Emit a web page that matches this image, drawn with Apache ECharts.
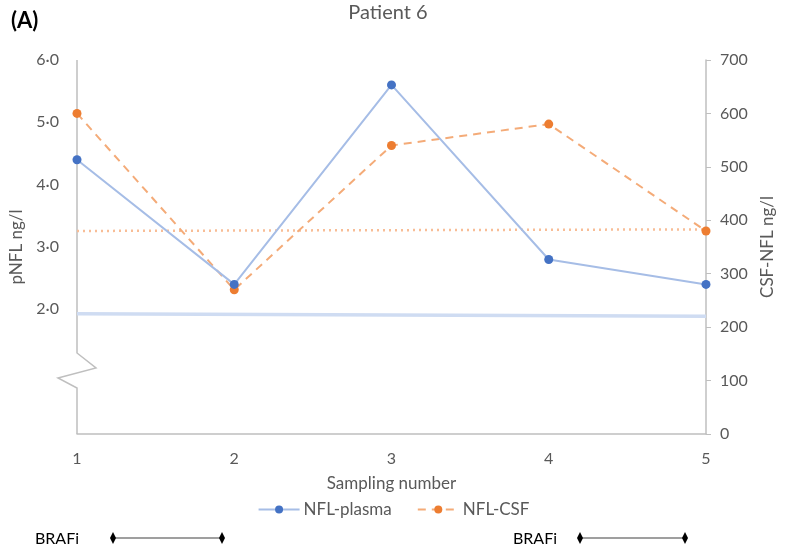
<!DOCTYPE html>
<html><head><meta charset="utf-8">
<script src="https://cdn.jsdelivr.net/npm/echarts@6/dist/echarts.min.js"></script>
<style>html,body{margin:0;padding:0;background:#fff}#c{width:787px;height:552px}</style>
</head><body><div id="c"></div>
<script>
const categories = ['1','2','3','4','5'];
const plasma = [4.4, 2.4, 5.6, 2.8, 2.4];
const csf = [600, 270, 540, 580, 380];
const plasmaRef = [1.93, null, null, null, 1.89];
const csfRef = [380, null, null, null, 383];
const leftTicks = [0,1,2,3,4,5,6];
const rightMax = 700;

const FONT = 'Lato';
const TXT = '#595959';
const chart = echarts.init(document.getElementById('c'), null, {renderer:'canvas'});
const gridL = 77, gridR = 81, gridT = 60, gridB = 118;

function diamondLine(x1, x2, y){
  return [
    {type:'line', shape:{x1:x1, y1:y, x2:x2, y2:y}, style:{stroke:'#7f7f7f', lineWidth:1.3}},
    {type:'polygon', shape:{points:[[x1-3,y],[x1,y-6],[x1+3,y],[x1,y+6]]}, style:{fill:'#000'}},
    {type:'polygon', shape:{points:[[x2-3,y],[x2,y-6],[x2+3,y],[x2,y+6]]}, style:{fill:'#000'}}
  ];
}

const option = {
  animation:false,
  textStyle:{fontFamily:FONT},
  title:{text:'Patient 6', left:383, textAlign:'center', top:-2,
    textStyle:{fontFamily:FONT, fontSize:20, fontWeight:'normal', color:TXT}},
  grid:{left:gridL, right:gridR, top:gridT, bottom:gridB},
  legend:{bottom:29, left:'center', itemGap:25, itemWidth:41, itemHeight:10,
    textStyle:{fontFamily:FONT, fontSize:17, color:TXT, padding:[0,0,0,-1]},
    data:['NFL-plasma','NFL-CSF']},
  xAxis:{type:'category', data:categories, boundaryGap:false,
    axisLine:{show:true, lineStyle:{color:'#bfbfbf', width:1.5}},
    axisTick:{show:false},
    axisLabel:{fontFamily:FONT, fontSize:16, color:TXT, margin:17},
    name:'Sampling number', nameLocation:'middle', nameGap:41,
    nameTextStyle:{fontFamily:FONT, fontSize:17, color:TXT}},
  yAxis:[
    {type:'value', min:leftTicks[0], max:leftTicks[leftTicks.length-1], interval:1,
     position:'left', splitLine:{show:false}, axisLine:{show:false}, axisTick:{show:false},
     axisLabel:{fontFamily:FONT, fontSize:16, color:TXT, margin:18,
       formatter:v => v >= 2 ? v.toFixed(1).replace('.', '\u00b7') : ''},
     name:'pNFL ng/l', nameLocation:'middle', nameGap:43, nameRotate:90,
     nameTextStyle:{fontFamily:FONT, fontSize:17, color:TXT}},
    {type:'value', min:0, max:rightMax, interval:100, position:'right',
     splitLine:{show:false},
     axisLine:{show:true, lineStyle:{color:'#bfbfbf', width:1.5}},
     axisTick:{show:true, length:5, lineStyle:{color:'#bfbfbf'}},
     axisLabel:{fontFamily:FONT, fontSize:16, color:TXT, margin:14},
     name:'CSF-NFL ng/l', nameLocation:'middle', nameGap:50, nameRotate:90,
     nameTextStyle:{fontFamily:FONT, fontSize:17, color:TXT}}
  ],
  series:[
    {name:'plasmaRef', type:'line', yAxisIndex:0, data:plasmaRef, connectNulls:true,
     symbol:'none', lineStyle:{color:'#cfdcf2', width:3.5}, silent:true, z:1},
    {name:'csfRef', type:'line', yAxisIndex:1, data:csfRef, connectNulls:true,
     symbol:'none', lineStyle:{color:'#f8bd96', width:2.5, type:[2,4]}, silent:true, z:1},
    {name:'NFL-plasma', type:'line', yAxisIndex:0, data:plasma,
     symbol:'circle', symbolSize:9,
     itemStyle:{color:'#4472c4'}, lineStyle:{color:'#a6bde6', width:2}, z:3},
    {name:'NFL-CSF', type:'line', yAxisIndex:1, data:csf,
     symbol:'circle', symbolSize:9,
     itemStyle:{color:'#ed7d31'}, lineStyle:{color:'#f4ab78', width:2, type:[8,6]}, z:2}
  ]
};
chart.setOption(option);

// decorations: broken left axis with zigzag, panel letter, BRAFi bars
const x0 = chart.convertToPixel({xAxisIndex:0}, 0);
const yTop = chart.convertToPixel({yAxisIndex:0}, leftTicks[leftTicks.length-1]);
const yBot = chart.convertToPixel({yAxisIndex:0}, leftTicks[0]);
const g = [
  {type:'polyline', shape:{points:[[x0,yTop],[x0,353],[x0+19,368],[x0-19,378],[x0,388],[x0,yBot]]},
   style:{stroke:'#bfbfbf', lineWidth:1.5, fill:null}},
  {type:'text', x:11, y:21, style:{text:'(A)', font:'bold 22px "Lato"', fill:'#000', verticalAlign:'middle'}},
  {type:'text', x:35, y:539, style:{text:'BRAFi', font:'16px "Lato"', fill:'#000', verticalAlign:'middle'}},
  {type:'text', x:513, y:539, style:{text:'BRAFi', font:'16px "Lato"', fill:'#000', verticalAlign:'middle'}}
].concat(diamondLine(113, 222, 538), diamondLine(580, 685, 538));
chart.setOption({graphic:g});
</script></body></html>
